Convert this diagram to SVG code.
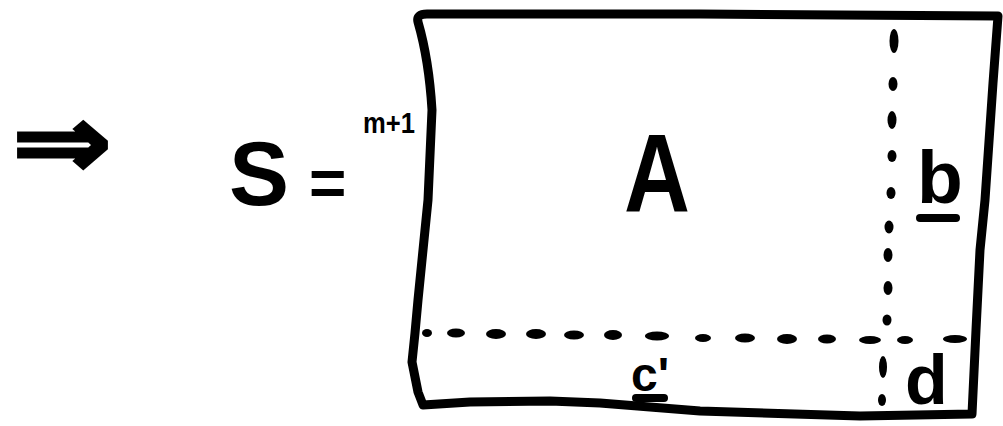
<svg xmlns="http://www.w3.org/2000/svg" width="1003" height="426" viewBox="0 0 1003 426">
<style>
.ink{fill:#000}
.hand{font-family:"Liberation Sans",Arial,sans-serif;font-weight:bold;fill:#000}
.edge{fill:none;stroke:#000;stroke-width:9;stroke-linejoin:round;stroke-linecap:round}
</style>
<rect width="1003" height="426" fill="#fff"/>
<g id="implies">
<text x="12" y="177" font-family="DejaVu Sans,sans-serif" font-weight="bold" font-size="102" stroke="#000" stroke-width="3" textLength="100" lengthAdjust="spacingAndGlyphs">⇒</text>
</g>
<g id="lhs">
<text class="hand" x="259" y="205" font-size="90" text-anchor="middle">S</text>
<text class="hand" x="309" y="205" font-size="64">=</text>
<text class="hand" x="363" y="133" font-size="30" textLength="52" lengthAdjust="spacingAndGlyphs">m+1</text>
</g>
<g id="matrix">
<path class="edge" d="M418 22 Q416 14 427 14 L700 14 L998 16 L993 83 L985 200 L980 250 L976 330 L972 414 L860 416 L700 411 L600 403 L550 401 L470 402 L423 405 L418 392 L412 362 L415 333 L418 300 L423 250 L428 200 L432 110 Q429 60 418 22 Z"/>
</g>
<g id="partition-lines">
<g class="ink">
<ellipse cx="894" cy="41" rx="4.5" ry="12"/>
<ellipse cx="893" cy="84" rx="4.5" ry="7"/>
<ellipse cx="892" cy="120" rx="4.5" ry="9"/>
<ellipse cx="892" cy="156" rx="4.5" ry="6"/>
<ellipse cx="891" cy="193" rx="4.5" ry="6"/>
<ellipse cx="889" cy="227" rx="4.5" ry="6.5"/>
<ellipse cx="888" cy="255" rx="4.5" ry="7"/>
<ellipse cx="888" cy="288" rx="4.5" ry="7"/>
<ellipse cx="887" cy="320" rx="4.5" ry="5.5"/>
<ellipse cx="883" cy="367" rx="4" ry="11"/>
<ellipse cx="882" cy="400" rx="4" ry="6"/>
<ellipse cx="427" cy="333" rx="5" ry="4"/>
<ellipse cx="456" cy="333" rx="9" ry="4.5"/>
<ellipse cx="496" cy="334" rx="10" ry="5"/>
<ellipse cx="536" cy="334" rx="10" ry="5"/>
<ellipse cx="574" cy="335" rx="10" ry="4.5"/>
<ellipse cx="613" cy="335" rx="9" ry="5"/>
<ellipse cx="657" cy="336" rx="12" ry="4.5"/>
<ellipse cx="703" cy="338" rx="8" ry="4"/>
<ellipse cx="745" cy="338" rx="10" ry="4.5"/>
<ellipse cx="787" cy="339" rx="10" ry="5"/>
<ellipse cx="827" cy="339" rx="9" ry="4.5"/>
<ellipse cx="870" cy="340" rx="11" ry="4"/>
<ellipse cx="905" cy="340" rx="8" ry="4"/>
<ellipse cx="955" cy="339" rx="12" ry="4"/>
</g>
</g>
<g id="label-A">
<text class="hand" x="657" y="212" font-size="112" text-anchor="middle" textLength="66" lengthAdjust="spacingAndGlyphs">A</text>
</g>
<g id="label-b">
<text class="hand" x="917" y="203" font-size="75">b</text>
<rect x="916" y="214" width="44" height="8" rx="4" class="ink"/>
</g>
<g id="label-c">
<text class="hand" x="631" y="391" font-size="48">c'</text>
<rect x="632" y="394" width="36" height="8" rx="4" class="ink"/>
</g>
<g id="label-d">
<text class="hand" x="905" y="404" font-size="70">d</text>
</g>
</svg>
